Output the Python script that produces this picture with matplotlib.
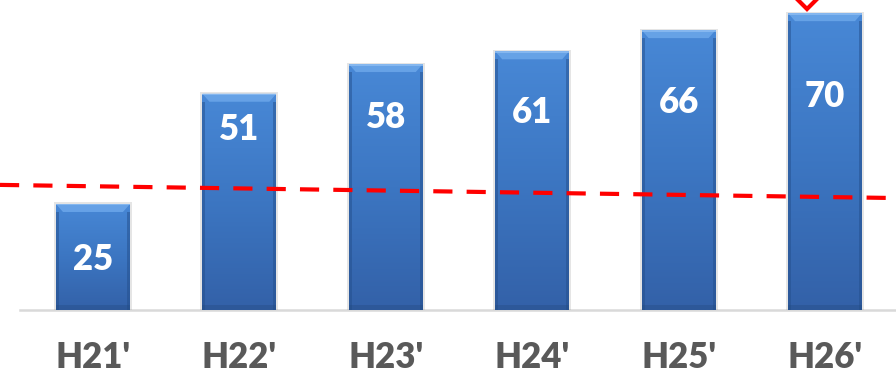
import numpy as np
import matplotlib
matplotlib.use("Agg")
import matplotlib.pyplot as plt
from matplotlib.patches import Polygon, Rectangle
from matplotlib.colors import LinearSegmentedColormap

# data
periods = ["H21'", "H22'", "H23'", "H24'", "H25'", "H26'"]
values = [25, 51, 58, 61, 66, 70]
target = [29.5, 26.4]          # dashed reference line, left end -> right end
marker_pt = (4.88, 74.3)       # red diamond above the last bar

# layout
label_base = [9.4, 40.1, 42.9, 44.1, 46.5, 47.9]   # baseline of the value text
xmin, xmax = -0.635, 5.485
ytop = 73.1
ux = (xmax - xmin) / 896.0     # one pixel in x data units
uy = ytop / 310.0              # one pixel in y data units

plt.rcParams['font.family'] = ['Lato', 'DejaVu Sans']

fig = plt.figure(figsize=(8.96, 3.73), dpi=100)
ax = fig.add_axes((0, 63 / 373, 1, 310 / 373))
ax.axis('off')

x = np.arange(len(values))
bars = ax.bar(x, values, width=0.505, color='none', edgecolor='none', zorder=3)

cmap = LinearSegmentedColormap.from_list('barfill', ['#3361A8', '#3C76C2', '#4888D6'])
grad = np.linspace(0, 1, 256).reshape(-1, 1)

for b in bars:
    x0, w, h = b.get_x(), b.get_width(), b.get_height()
    # soft shadow around the bar
    ax.add_patch(Rectangle((x0 - 2 * ux, 0), w + 4 * ux, h + 1.5 * uy,
                           color='#7F7F7F', alpha=0.2, lw=0, zorder=2))
    im = ax.imshow(grad, extent=(x0, x0 + w, 0, h), origin='lower', cmap=cmap,
                   aspect='auto', zorder=3, interpolation='bilinear')
    im.set_clip_path(b)
    # bevel: bright top, darker sides and foot
    bt, bs = 8 * uy, 7 * ux
    ax.add_patch(Polygon([(x0, h), (x0 + w, h), (x0 + w - bs, h - bt), (x0 + bs, h - bt)],
                         closed=True, color='#6CA7EA', alpha=0.85, lw=0, zorder=3.2))
    ax.add_patch(Rectangle((x0, h - 1.5 * uy), w, 1.5 * uy,
                           color='#8DBDF2', alpha=0.8, lw=0, zorder=3.3))
    ax.add_patch(Rectangle((x0, 0), 3 * ux, h - bt, color='#244F8C', alpha=0.5, lw=0, zorder=3.1))
    ax.add_patch(Rectangle((x0 + w - 3 * ux, 0), 3 * ux, h - bt, color='#244F8C', alpha=0.5,
                           lw=0, zorder=3.1))
    ax.add_patch(Rectangle((x0, 0), w, 5 * uy, color='#22497F', alpha=0.35, lw=0, zorder=3.1))

# axis base line
ax.plot([-0.5, xmax], [0, 0], color='#D9D9D9', lw=1.8, zorder=1, clip_on=False)

# dashed reference line
ax.plot([xmin, xmax], target, color='#FF0000', lw=3.0, dashes=(4.6, 3.4), zorder=4)

# diamond marker at the top
ax.plot(*marker_pt, marker='D', ms=14, mfc='white', mec='#FF0000', mew=3,
        zorder=6, clip_on=False)

for xi, v, lb, p in zip(x, values, label_base, periods):
    ax.text(xi, lb, str(v), ha='center', va='baseline', color='white',
            fontsize=25, fontweight='heavy', zorder=5)
    ax.text(xi, -13.7, p, ha='center', va='baseline', color='#595959',
            fontsize=25, fontweight='heavy', clip_on=False)

ax.set_xlim(xmin, xmax)
ax.set_ylim(0, ytop)

fig.savefig('out.png', dpi=100)
